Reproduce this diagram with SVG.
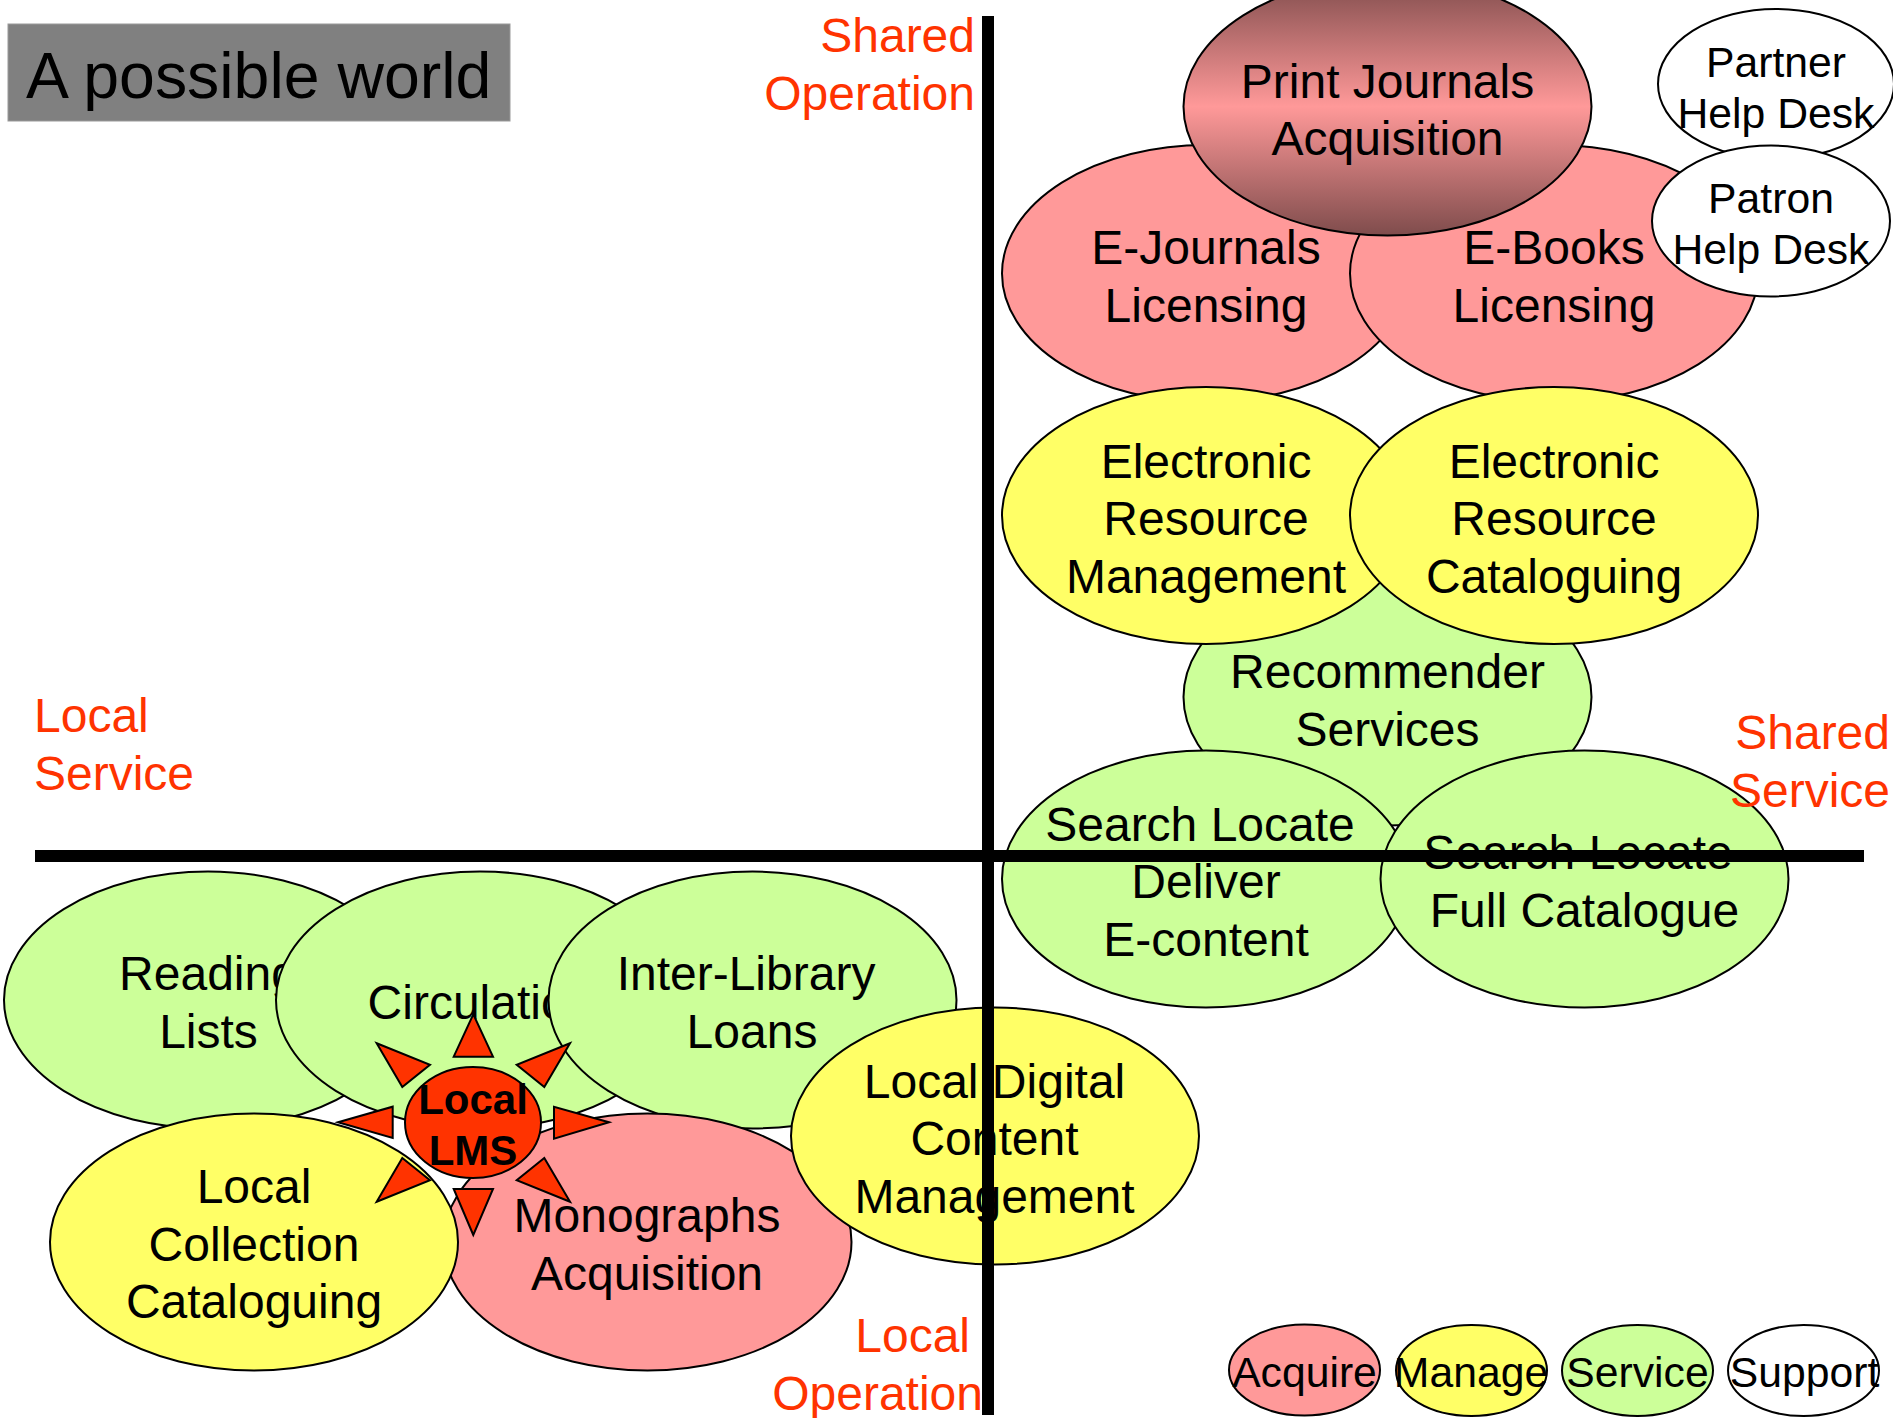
<svg xmlns="http://www.w3.org/2000/svg" width="1893" height="1418" viewBox="0 0 1893 1418">
<style>
text{font-family:"Liberation Sans",Arial,sans-serif;fill:#000;text-anchor:middle}
.t{font-size:48px}
.s{font-size:42.7px}
.b{font-size:42px;font-weight:bold}
.r{font-size:48px;fill:#FF3300;text-anchor:end}
.l{font-size:48px;fill:#FF3300;text-anchor:start}
ellipse,polygon{stroke:#000;stroke-width:2}
.acq{fill:#FF9999}.man{fill:#FFFF66}.svc{fill:#CCFF99}.sup{fill:#fff}.lms{fill:#FF3300}
.axis{stroke:#000;stroke-width:12;fill:none}
</style>
<defs>
<linearGradient id="pj" x1="0" y1="0" x2="0" y2="1">
<stop offset="0" stop-color="#7F4C4C"/><stop offset="0.5" stop-color="#FF9999"/><stop offset="1" stop-color="#7F4C4C"/>
</linearGradient>
</defs>
<rect width="1893" height="1418" fill="#fff"/>
<g id="title"><rect x="8" y="24" width="502" height="97" fill="#808080" stroke="#999" stroke-width="1"/><text x="26" y="98" font-size="64.4" style="text-anchor:start">A possible world</text></g>
<g id="e-journals"><ellipse class="acq" cx="1206" cy="273.5" rx="204" ry="128.5"/><text class="t" x="1206" y="264">E-Journals</text><text class="t" x="1206" y="322">Licensing</text></g>
<g id="e-books"><ellipse class="acq" cx="1554" cy="273.5" rx="204" ry="128.5"/><text class="t" x="1554" y="264">E-Books</text><text class="t" x="1554" y="322">Licensing</text></g>
<g id="print-journals"><ellipse cx="1387.5" cy="106.5" rx="204" ry="129" fill="url(#pj)"/><text class="t" x="1387.5" y="98">Print Journals</text><text class="t" x="1387.5" y="155">Acquisition</text></g>
<g id="partner-help"><ellipse class="sup" cx="1776" cy="84" rx="118" ry="75"/><text class="s" x="1776" y="77">Partner</text><text class="s" x="1776" y="127.5">Help Desk</text></g>
<g id="patron-help"><ellipse class="sup" cx="1771" cy="221" rx="119" ry="75.5"/><text class="s" x="1771" y="213">Patron</text><text class="s" x="1771" y="263.5">Help Desk</text></g>
<g id="recommender"><ellipse class="svc" cx="1387.5" cy="697" rx="204" ry="128.5"/><text class="t" x="1387.5" y="688">Recommender</text><text class="t" x="1387.5" y="746">Services</text></g>
<g id="erm"><ellipse class="man" cx="1206" cy="515.5" rx="204" ry="128.5"/><text class="t" x="1206" y="478">Electronic</text><text class="t" x="1206" y="535">Resource</text><text class="t" x="1206" y="593">Management</text></g>
<g id="erc"><ellipse class="man" cx="1554" cy="515.5" rx="204" ry="128.5"/><text class="t" x="1554" y="478">Electronic</text><text class="t" x="1554" y="535">Resource</text><text class="t" x="1554" y="593">Cataloguing</text></g>
<g id="search-econtent"><ellipse class="svc" cx="1206" cy="879" rx="204" ry="128.5"/><text class="t" x="1200" y="841">Search Locate</text><text class="t" x="1206" y="897.5">Deliver</text><text class="t" x="1206" y="955.5">E-content</text></g>
<g id="search-full"><ellipse class="svc" cx="1584.5" cy="879" rx="204" ry="128.5"/><text class="t" x="1578" y="869">Search Locate</text><text class="t" x="1584.5" y="927">Full Catalogue</text></g>
<g id="reading-lists"><ellipse class="svc" cx="208" cy="1000" rx="204" ry="128.5"/><text class="t" x="208.5" y="990">Reading</text><text class="t" x="208.5" y="1048">Lists</text></g>
<g id="circulation"><ellipse class="svc" cx="480" cy="1000" rx="204" ry="128.5"/><text class="t" x="481" y="1019">Circulation</text></g>
<g id="inter-library"><ellipse class="svc" cx="752.5" cy="1000" rx="204" ry="128.5"/><text class="t" x="746" y="990">Inter-Library</text><text class="t" x="752" y="1048">Loans</text></g>
<g id="monographs"><ellipse class="acq" cx="647.5" cy="1242" rx="204" ry="128.5"/><text class="t" x="647" y="1232">Monographs</text><text class="t" x="647" y="1290">Acquisition</text></g>
<g id="local-cataloguing"><ellipse class="man" cx="254" cy="1242" rx="204" ry="128.5"/><text class="t" x="254" y="1203">Local</text><text class="t" x="254" y="1261">Collection</text><text class="t" x="254" y="1318">Cataloguing</text></g>
<g id="local-digital"><ellipse class="man" cx="995" cy="1136" rx="204" ry="128.5"/><text class="t" x="994.5" y="1098">Local Digital</text><text class="t" x="994.5" y="1155">Content</text><text class="t" x="994.5" y="1213">Management</text></g>
<g id="connectors">
<line class="axis" x1="988" y1="16" x2="988" y2="1415"/>
<line class="axis" x1="35" y1="856" x2="1864" y2="856"/>
</g>
<g id="local-lms">
<ellipse class="lms" cx="473" cy="1122.5" rx="68" ry="55.5"/>
<polygon class="lms" points="473.3,1014.3 453.7,1056.7 493,1056.7"/>
<polygon class="lms" points="376.7,1043.3 430,1064.7 402.3,1087"/>
<polygon class="lms" points="570,1043.3 516.7,1064.7 544.3,1087"/>
<polygon class="lms" points="338,1122.3 392.7,1106.7 392.7,1138"/>
<polygon class="lms" points="609,1122.3 554,1106.7 554,1138.7"/>
<polygon class="lms" points="376.7,1201.7 430,1180.3 402.3,1158"/>
<polygon class="lms" points="570,1201.7 516.7,1180.3 544.3,1158"/>
<polygon class="lms" points="473.3,1235 453.7,1189 493,1189"/>
<text class="b" x="473" y="1114">Local</text><text class="b" x="473" y="1165">LMS</text>
</g>
<g id="legend-acquire"><ellipse class="acq" cx="1304.5" cy="1370" rx="75.5" ry="45.5"/><text class="s" x="1304.5" y="1387">Acquire</text></g>
<g id="legend-manage"><ellipse class="man" cx="1471.5" cy="1370.5" rx="75.5" ry="45.5"/><text class="s" x="1471" y="1387">Manage</text></g>
<g id="legend-service"><ellipse class="svc" cx="1637.5" cy="1370.5" rx="75.5" ry="45.5"/><text class="s" x="1637.5" y="1387">Service</text></g>
<g id="legend-support"><ellipse class="sup" cx="1803.5" cy="1370.5" rx="75.5" ry="45.5"/><text class="s" x="1804.5" y="1387">Support</text></g>
<g id="axis-labels">
<text class="r" x="975" y="52">Shared</text><text class="r" x="975" y="110">Operation</text>
<text class="l" x="34" y="732">Local</text><text class="l" x="34" y="790">Service</text>
<text class="r" x="1890" y="749">Shared</text><text class="r" x="1890" y="807">Service</text>
<text class="r" x="970" y="1352">Local</text><text class="r" x="983" y="1410">Operation</text>
</g>
</svg>
